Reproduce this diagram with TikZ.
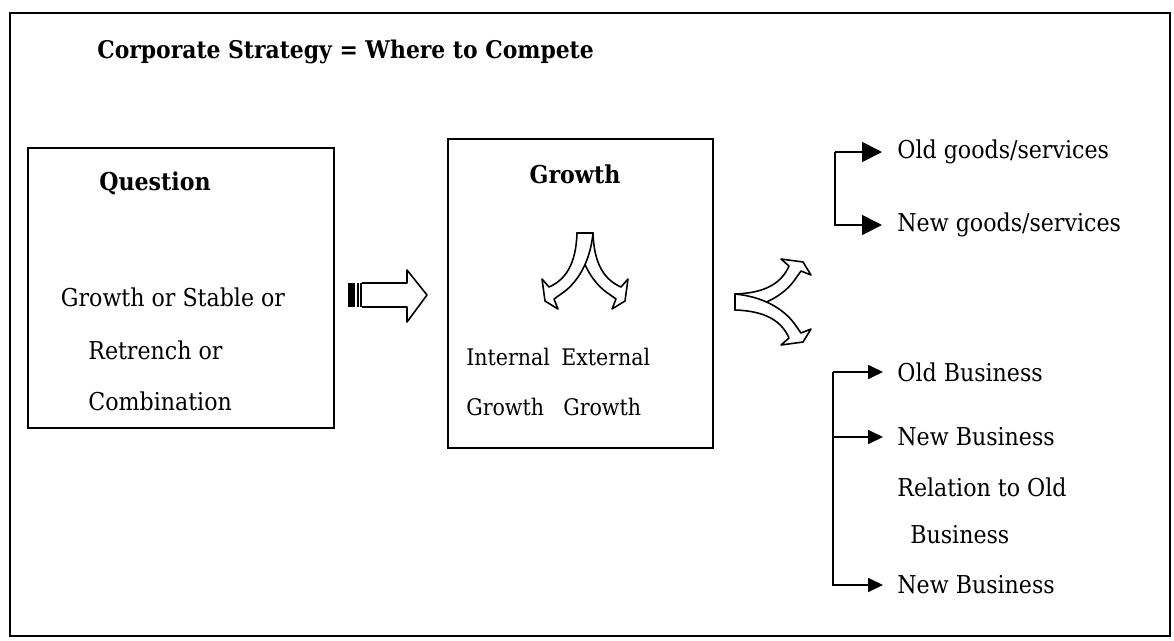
\documentclass[tikz,border=0pt]{standalone}
\usepackage{fontspec}
\setmainfont{DejaVu Serif Condensed}
\usetikzlibrary{arrows.meta}
\begin{document}
\begin{tikzpicture}[x=0.02cm,y=-0.02cm,
  frame/.style={draw=black, line width=1.1pt},
  box/.style={draw=black, line width=1.2pt, inner sep=0pt, anchor=north west},
  txt/.style={font=\fontsize{14}{17}\selectfont, inner sep=0pt},
  smalltxt/.style={font=\fontsize{13}{16}\selectfont, inner sep=0pt, anchor=west},
  head/.style={font=\fontsize{14}{17}\selectfont\bfseries, inner sep=0pt},
  title/.style={font=\fontsize{13.85}{16}\selectfont\bfseries, inner sep=0pt, anchor=west},
  outline/.style={draw=black, line width=0.9pt, fill=white, line join=round},
  brk/.style={draw=black, line width=1pt},
  bigtip/.style={-{Triangle[length=0.4cm,width=0.4cm]}, shorten >=0.3cm},
  smalltip/.style={-{Triangle[length=0.3cm,width=0.28cm]}, shorten >=0.28cm},
  splitarrow/.pic={
    % ribbon bending to the right (drawn first, lies behind)
    \draw[outline] (8,0) .. controls (9,32) and (20,47) .. (36,54) -- (43,46)
      -- (40,68) -- (27,76) -- (31,66) -- (24,61)
      .. controls (10,52) and (-5,32) .. (-8,0) -- cycle;
    % ribbon bending to the left (in front)
    \draw[outline] (-8,0) .. controls (-9,32) and (-20,47) .. (-36,54) -- (-43,46)
      -- (-40,68) -- (-27,76) -- (-31,66) -- (-24,61)
      .. controls (-10,52) and (5,32) .. (8,0) -- cycle;
  },
]
\useasboundingbox (0,0) rectangle (1174,640);
\draw[frame] (10,13) rectangle (1170,636);

\node[title] (ttl) at (97,52) {Corporate Strategy = Where to Compete};

% question box
\node[box, minimum width=6.12cm, minimum height=5.6cm] (qbox) at (27,147) {};
\node[head] (qh) at (155,183) {Question};
\node[txt] (q1) at (173,297) {Growth or Stable or};
\node[txt, anchor=west] (q2) at (88,350) {Retrench or};
\node[txt, anchor=west] (q3) at (88,401) {Combination};

% block arrow between the boxes
\fill (348,283) rectangle (355,307);
\draw[line width=0.8pt] (358,283) -- (358,307) (361,283) -- (361,307);
\draw[outline] (362,283) -- (407,283) -- (407,270) -- (427,295) -- (407,322)
  -- (407,307) -- (362,307);

% growth box
\node[box, minimum width=5.3cm, minimum height=6.18cm] (gbox) at (447,138) {};
\node[head] (gh) at (575,174) {Growth};
\pic at (585,233) {splitarrow};
\node[smalltxt] (g1) at (466,357) {Internal};
\node[smalltxt] (g2) at (466,407) {Growth};
\node[smalltxt] (g3) at (561,357) {External};
\node[smalltxt] (g4) at (563,407) {Growth};

% split arrow towards the two option groups
\pic[rotate=90] at (735,302) {splitarrow};

% goods / services
\node[txt, anchor=west] (og) at (897,152) {Old goods/services};
\node[txt, anchor=west] (ng) at (897,225) {New goods/services};
\coordinate (k1) at (835,152);
\draw[brk, bigtip] (k1) -- (og.west);
\draw[brk, bigtip] (k1) |- (ng.west);

% businesses
\node[txt, anchor=west] (ob) at (897,372) {Old Business};
\node[txt, anchor=west] (nb1) at (897,437) {New Business};
\node[txt, anchor=west] (rel) at (897,487) {Relation to Old};
\node[txt, anchor=west] (relb) at (910,535) {Business};
\node[txt, anchor=west] (nb2) at (897,585) {New Business};
\coordinate (k2) at (833,372);
\draw[brk, smalltip] (k2) -- (ob.west);
\draw[brk, smalltip] (k2) |- (nb1.west);
\draw[brk, smalltip] (k2) |- (nb2.west);
\end{tikzpicture}
\end{document}
